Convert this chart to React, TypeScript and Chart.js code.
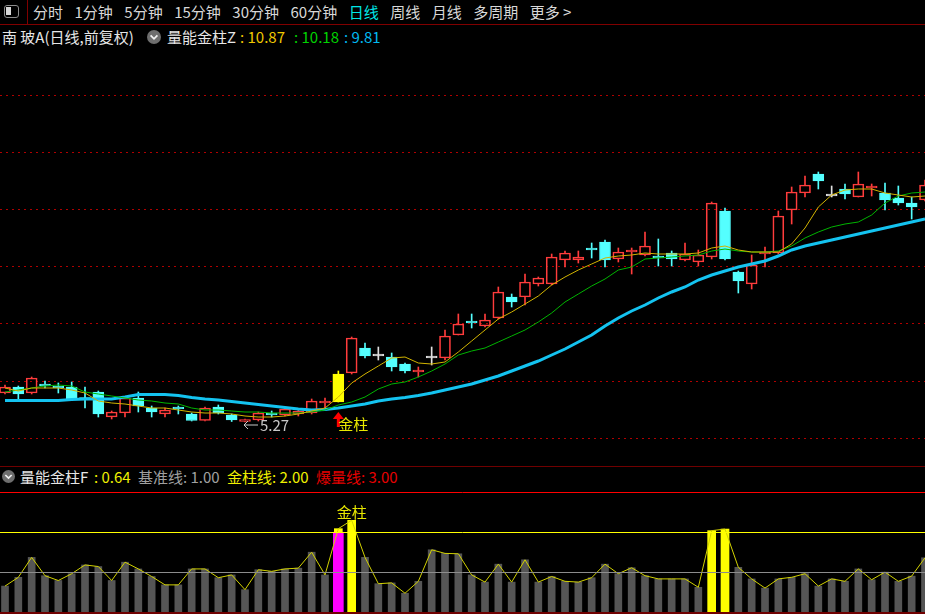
import React, { useEffect, useRef } from 'react';
import { Chart, registerables } from 'chart.js';

Chart.register(...registerables);

// ---------- text ----------
const MENU_ITEMS = ['分时', '1分钟', '5分钟', '15分钟', '30分钟', '60分钟', '日线', '周线', '月线', '多周期', '更多 >'];
const ACTIVE_PERIOD = '日线';
const STOCK_TITLE = '南 玻A(日线,前复权)';
const MAIN_IND_NAME = '量能金柱Z';
const MAIN_IND_VALUES = ['10.87', '10.18', '9.81'];
const SUB_IND_NAME = '量能金柱F';
const SUB_IND_VALUE = '0.64';
const SUB_LEVEL_NAMES = ['基准线', '金柱线', '爆量线'];
const GOLD_TEXT = '金柱';

// ---------- daily candles ----------
const OPEN = [5.85, 5.97, 5.85, 6.03, 5.99, 5.97, 5.74, 5.87, 5.37, 5.45,
  5.75, 5.55, 5.43, 5.57, 5.43, 5.30, 5.57, 5.41, 5.28, 5.31,
  5.45, 5.41, 5.43, 5.45, 5.65, 5.67, 6.25, 6.75, 6.59, 6.57,
  6.43, 6.27, 6.55, 6.55, 7.01, 7.29, 7.19, 7.35, 7.77, 7.77,
  8.03, 8.03, 8.51, 8.51, 8.75, 8.87, 8.53, 8.67, 8.61, 8.59,
  8.65, 8.51, 8.47, 8.57, 9.49, 8.27, 8.03, 8.63, 8.65, 9.51,
  9.85, 10.23, 9.79, 9.93, 9.77, 9.95, 9.85, 9.75, 9.65, 9.71];
const HIGH = [6.01, 5.99, 6.17, 6.09, 6.05, 6.07, 5.97, 5.89, 5.49, 5.77,
  5.87, 5.59, 5.55, 5.59, 5.45, 5.57, 5.61, 5.43, 5.33, 5.47,
  5.49, 5.55, 5.53, 5.73, 5.75, 6.29, 6.97, 6.85, 6.77, 6.65,
  6.45, 6.37, 6.77, 7.11, 7.43, 7.43, 7.43, 7.97, 7.83, 8.23,
  8.17, 8.63, 8.69, 8.69, 8.85, 8.91, 8.75, 8.75, 9.07, 8.93,
  8.69, 8.85, 8.71, 9.67, 9.55, 8.29, 8.61, 8.77, 9.49, 9.97,
  10.19, 10.27, 9.99, 10.03, 10.27, 10.03, 10.05, 9.99, 9.77, 10.11];
const LOW = [5.83, 5.73, 5.83, 5.95, 5.85, 5.71, 5.55, 5.37, 5.33, 5.37,
  5.47, 5.37, 5.37, 5.43, 5.29, 5.29, 5.43, 5.28, 5.27, 5.29,
  5.37, 5.39, 5.39, 5.43, 5.55, 5.67, 6.23, 6.55, 6.51, 6.29,
  6.25, 6.17, 6.41, 6.51, 7.01, 7.15, 7.17, 7.33, 7.57, 7.61,
  7.99, 8.01, 8.37, 8.45, 8.55, 8.37, 8.47, 8.23, 8.59, 8.39,
  8.39, 8.49, 8.39, 8.53, 8.51, 7.85, 7.93, 8.37, 8.63, 9.23,
  9.77, 9.93, 9.77, 9.73, 9.77, 9.79, 9.51, 9.61, 9.33, 9.69];
const CLOSE = [5.97, 5.83, 6.15, 5.99, 5.95, 5.73, 5.72, 5.43, 5.47, 5.75,
  5.59, 5.47, 5.51, 5.53, 5.30, 5.55, 5.45, 5.31, 5.32, 5.45,
  5.41, 5.53, 5.49, 5.69, 5.69, 6.23, 6.95, 6.59, 6.59, 6.37,
  6.29, 6.30, 6.55, 6.99, 7.23, 7.25, 7.31, 7.87, 7.67, 8.07,
  8.15, 8.57, 8.65, 8.57, 8.71, 8.51, 8.67, 8.71, 8.79, 8.55,
  8.53, 8.63, 8.61, 9.65, 8.53, 8.09, 8.41, 8.67, 9.39, 9.87,
  10.01, 10.09, 9.79, 9.83, 10.03, 9.98, 9.71, 9.65, 9.57, 10.01];

// ---------- main-panel indicator lines ----------
const LINE_FAST = [5.95, 5.89, 5.95, 5.95, 5.95, 5.91, 5.85, 5.69, 5.65, 5.63,
  5.59, 5.55, 5.55, 5.51, 5.47, 5.45, 5.45, 5.43, 5.39, 5.37,
  5.37, 5.39, 5.43, 5.49, 5.55, 5.77, 6.05, 6.23, 6.39, 6.55,
  6.57, 6.45, 6.43, 6.47, 6.67, 6.89, 7.11, 7.33, 7.47, 7.63,
  7.79, 8.01, 8.17, 8.31, 8.43, 8.55, 8.59, 8.61, 8.65, 8.63,
  8.63, 8.63, 8.65, 8.75, 8.79, 8.71, 8.67, 8.67, 8.67, 8.83,
  9.15, 9.57, 9.81, 9.91, 9.93, 9.93, 9.85, 9.81, 9.77, 9.79];
const LINE_MID = [5.87, 5.91, 5.95, 5.99, 6.01, 5.99, 5.87, 5.83, 5.79, 5.75,
  5.71, 5.69, 5.65, 5.63, 5.55, 5.51, 5.51, 5.49, 5.47, 5.47,
  5.45, 5.45, 5.45, 5.47, 5.51, 5.61, 5.67, 5.77, 5.93, 6.03,
  6.07, 6.17, 6.29, 6.43, 6.61, 6.69, 6.75, 6.87, 6.99, 7.11,
  7.27, 7.45, 7.67, 7.83, 7.99, 8.13, 8.31, 8.37, 8.53, 8.55,
  8.57, 8.59, 8.61, 8.69, 8.73, 8.69, 8.67, 8.67, 8.69, 8.79,
  8.95, 9.07, 9.17, 9.23, 9.27, 9.41, 9.65, 9.79, 9.85, 9.87];
const LINE_SLOW = [5.70, 5.70, 5.70, 5.70, 5.70, 5.72, 5.73, 5.73, 5.73, 5.77,
  5.82, 5.82, 5.82, 5.80, 5.76, 5.73, 5.71, 5.68, 5.65, 5.62,
  5.59, 5.56, 5.53, 5.51, 5.52, 5.55, 5.59, 5.63, 5.69, 5.73,
  5.76, 5.80, 5.85, 5.91, 5.97, 6.03, 6.11, 6.19, 6.29, 6.39,
  6.49, 6.61, 6.73, 6.87, 7.01, 7.19, 7.35, 7.49, 7.61, 7.75,
  7.87, 7.97, 8.11, 8.21, 8.29, 8.37, 8.43, 8.49, 8.59, 8.71,
  8.79, 8.85, 8.91, 8.97, 9.03, 9.09, 9.15, 9.21, 9.27, 9.33];
const GOLDEN_CANDLES = [25];
const GRID_PRICES = [4.94, 6.08, 7.23, 8.37, 9.51, 10.66, 11.80];

// ---------- sub-panel (volume ratio) ----------
const VOL_RATIO = [0.65, 0.87, 1.37, 0.91, 0.79, 0.96, 1.18, 1.14, 0.79, 1.25,
  1.08, 0.89, 0.68, 0.68, 1.08, 1.08, 0.86, 0.93, 0.56, 1.06,
  1.02, 1.08, 1.10, 1.50, 0.93, 2.09, 2.30, 1.37, 0.71, 0.73,
  0.47, 0.77, 1.56, 1.47, 1.46, 0.93, 0.75, 1.20, 0.75, 1.31,
  0.75, 0.89, 0.77, 0.75, 0.86, 1.20, 0.96, 1.11, 0.91, 0.83,
  0.83, 0.83, 0.62, 2.04, 2.08, 1.12, 0.83, 0.60, 0.83, 0.87,
  0.96, 0.65, 0.83, 0.77, 1.08, 0.81, 1.00, 0.77, 0.90, 1.36];
const RATIO_LEVELS = [1, 2, 3];
const MAGENTA_BARS = [25];
const SUB_GOLD_LABELS = [26];

// ---------- styling ----------
const FONT = '"Noto Sans CJK SC", "Noto Sans", sans-serif';
const UP = '#ff3c3c';
const DOWN = '#54ffff';
const FLAT = '#e0e0e0';
const GOLD = '#ffff00';
const X_MIN = -0.375;
const X_MAX = 69;

function candleColor(i: number) {
  if (GOLDEN_CANDLES.includes(i)) return GOLD;
  if (CLOSE[i] > OPEN[i]) return UP;
  if (CLOSE[i] < OPEN[i]) return DOWN;
  return FLAT;
}

export default function App() {
  const mainRef = useRef<HTMLCanvasElement>(null);
  const subRef = useRef<HTMLCanvasElement>(null);

  useEffect(() => {
    const idx = OPEN.map((_, i) => i);
    const colorOf = (ctx: any) => candleColor(ctx.dataIndex);

    const mainLabels = {
      id: 'mainLabels',
      afterDatasetsDraw(chart: any) {
        const { ctx } = chart;
        const x = chart.scales.x;
        const y = chart.scales.y;
        // lowest low marker
        let li = 0;
        LOW.forEach((v, i) => { if (v < LOW[li]) li = i; });
        const lx = x.getPixelForValue(li);
        const ay = y.getPixelForValue(LOW[li]) + 3;
        ctx.save();
        ctx.strokeStyle = '#c8c8c8';
        ctx.fillStyle = '#c8c8c8';
        ctx.lineWidth = 1;
        ctx.beginPath();
        ctx.moveTo(lx - 1, ay); ctx.lineTo(lx + 13, ay);
        ctx.moveTo(lx - 1, ay); ctx.lineTo(lx + 3, ay - 4);
        ctx.moveTo(lx - 1, ay); ctx.lineTo(lx + 3, ay + 4);
        ctx.stroke();
        ctx.font = `15px ${FONT}`;
        ctx.textBaseline = 'middle';
        ctx.textAlign = 'left';
        ctx.fillText(LOW[li].toFixed(2), lx + 15, ay);
        // golden-column markers
        GOLDEN_CANDLES.forEach((gi) => {
          const cx = x.getPixelForValue(gi);
          const ly = y.getPixelForValue(LOW[gi]);
          ctx.fillStyle = '#ff0000';
          ctx.beginPath();
          ctx.moveTo(cx, ly + 10);
          ctx.lineTo(cx + 5.5, ly + 17);
          ctx.lineTo(cx - 5.5, ly + 17);
          ctx.closePath();
          ctx.fill();
          ctx.fillRect(cx - 1.5, ly + 17, 3, 8);
          ctx.fillStyle = '#e8e800';
          ctx.fillText(GOLD_TEXT, cx, ly + 22);
        });
        ctx.restore();
      },
    };

    const main = new Chart(mainRef.current as HTMLCanvasElement, {
      type: 'bar',
      data: {
        datasets: [
          {
            type: 'line', data: idx.map((i) => ({ x: i, y: LINE_FAST[i] })),
            borderColor: '#d2b400', borderWidth: 1, pointRadius: 0, order: 1,
          },
          {
            type: 'line', data: idx.map((i) => ({ x: i, y: LINE_MID[i] })),
            borderColor: '#00b400', borderWidth: 1, pointRadius: 0, order: 2,
          },
          {
            type: 'line', data: idx.map((i) => ({ x: i, y: LINE_SLOW[i] })),
            borderColor: '#14c3f0', borderWidth: 3, pointRadius: 0, order: 3,
          },
          {
            type: 'bar',
            data: idx.map((i) => ({ x: i, y: [OPEN[i], CLOSE[i]] })),
            backgroundColor: (ctx: any) => {
              const i = ctx.dataIndex;
              if (GOLDEN_CANDLES.includes(i)) return GOLD;
              return CLOSE[i] > OPEN[i] ? 'rgba(0,0,0,0)' : candleColor(i);
            },
            borderColor: colorOf, borderWidth: 1, borderSkipped: false,
            barThickness: 11, minBarLength: 2, grouped: false, order: 4,
          } as any,
          {
            type: 'bar',
            data: idx.map((i) => ({ x: i, y: [Math.max(OPEN[i], CLOSE[i]), HIGH[i]] })),
            backgroundColor: colorOf, borderWidth: 0, barThickness: 1, grouped: false, order: 5,
          } as any,
          {
            type: 'bar',
            data: idx.map((i) => ({ x: i, y: [LOW[i], Math.min(OPEN[i], CLOSE[i])] })),
            backgroundColor: colorOf, borderWidth: 0, barThickness: 1, grouped: false, order: 6,
          } as any,
        ],
      },
      options: {
        animation: false,
        responsive: false,
        maintainAspectRatio: false,
        layout: { padding: 0 },
        plugins: { legend: { display: false }, tooltip: { enabled: false } },
        scales: {
          x: { type: 'linear', min: X_MIN, max: X_MAX, display: false, offset: false },
          y: {
            min: 4.39, max: 12.79,
            ticks: { display: false },
            border: { display: false, dash: [2, 4] },
            grid: { color: '#b00000', lineWidth: 1, drawTicks: false },
            afterBuildTicks: (a: any) => { a.ticks = GRID_PRICES.map((v) => ({ value: v })); },
            afterFit: (a: any) => { a.width = 0; },
          },
        },
      } as any,
      plugins: [mainLabels],
    });

    const subLabels = {
      id: 'subLabels',
      afterDatasetsDraw(chart: any) {
        const { ctx } = chart;
        const x = chart.scales.x;
        const y = chart.scales.y;
        ctx.save();
        ctx.fillStyle = '#e8e800';
        ctx.font = `15px ${FONT}`;
        ctx.textAlign = 'center';
        ctx.textBaseline = 'alphabetic';
        SUB_GOLD_LABELS.forEach((gi) => {
          ctx.fillText(GOLD_TEXT, x.getPixelForValue(gi), y.getPixelForValue(VOL_RATIO[gi]) - 2);
        });
        ctx.restore();
      },
    };

    const goldLevel = RATIO_LEVELS[1];
    const sub = new Chart(subRef.current as HTMLCanvasElement, {
      type: 'bar',
      data: {
        datasets: [
          {
            type: 'line', data: idx.map((i) => ({ x: i, y: VOL_RATIO[i] })),
            borderColor: '#d2d200', borderWidth: 1, pointRadius: 0, order: 1,
          },
          {
            type: 'bar',
            data: idx.map((i) => ({ x: i, y: MAGENTA_BARS.includes(i) ? Math.min(VOL_RATIO[i], goldLevel) : null })),
            backgroundColor: '#ff00ff', barThickness: 10, grouped: false, order: 2,
          } as any,
          {
            type: 'bar',
            data: idx.map((i) => ({ x: i, y: VOL_RATIO[i] >= goldLevel ? VOL_RATIO[i] : null })),
            backgroundColor: '#ffff00', barThickness: 8, grouped: false, order: 3,
          } as any,
          {
            type: 'bar',
            data: idx.map((i) => ({ x: i, y: VOL_RATIO[i] < goldLevel ? VOL_RATIO[i] : null })),
            backgroundColor: '#555555', barThickness: 7, grouped: false, order: 4,
          } as any,
        ],
      },
      options: {
        animation: false,
        responsive: false,
        maintainAspectRatio: false,
        layout: { padding: 0 },
        plugins: { legend: { display: false }, tooltip: { enabled: false } },
        scales: {
          x: { type: 'linear', min: X_MIN, max: X_MAX, display: false, offset: false },
          y: {
            min: 0, max: 3.16,
            ticks: { display: false },
            border: { display: false },
            grid: {
              z: 1, lineWidth: 1, drawTicks: false,
              color: (ctx: any) => (ctx.tick.value === 1 ? '#8c8c8c' : ctx.tick.value === 2 ? '#ffff00' : '#ff0000'),
            },
            afterBuildTicks: (a: any) => { a.ticks = RATIO_LEVELS.map((v) => ({ value: v })); },
            afterFit: (a: any) => { a.width = 0; },
          },
        },
      } as any,
      plugins: [subLabels],
    });

    return () => { main.destroy(); sub.destroy(); };
  }, []);

  const txt: React.CSSProperties = {
    position: 'absolute', whiteSpace: 'nowrap', fontSize: 15, lineHeight: '18px', fontFamily: FONT,
  };
  const chevron = (left: number, top: number, size: number) => (
    <svg style={{ position: 'absolute', left, top }} width={size} height={size} viewBox="0 0 14 14">
      <circle cx="7" cy="7" r="7" fill="#6e6e6e" />
      <polyline points="3.6,5.4 7,8.8 10.4,5.4" stroke="#f0f0f0" strokeWidth="1.8" fill="none" />
    </svg>
  );

  return (
    <div style={{ position: 'fixed', left: 0, top: 0, width: 925, height: 614, background: '#000', overflow: 'hidden', fontFamily: FONT }}>
      {/* menu bar */}
      <div style={{ position: 'absolute', left: 4, top: 5, width: 15, height: 13, boxSizing: 'border-box', border: '1.5px solid #8c8c8c', borderRadius: 3 }}>
        <div style={{ position: 'absolute', left: 1, top: 1, width: 5, height: 8, background: '#d8d8d8' }} />
      </div>
      <div style={{ position: 'absolute', left: 27, top: 0, width: 1, height: 24, background: '#800000' }} />
      <div style={{ position: 'absolute', left: 0, top: 24, width: 925, height: 1, background: '#800000' }} />
      <div style={{ position: 'absolute', left: 33, top: 3, display: 'flex', gap: 11.5, fontSize: 15, lineHeight: '18px', color: '#d8d8d8', whiteSpace: 'nowrap' }}>
        {MENU_ITEMS.map((m) => (
          <span key={m} style={{ color: m === ACTIVE_PERIOD ? '#00e6e6' : undefined }}>{m}</span>
        ))}
      </div>

      {/* main title */}
      <span style={{ ...txt, left: 2, top: 28, color: '#e6e6e6' }}>{STOCK_TITLE}</span>
      {chevron(147, 30, 14)}
      <span style={{ ...txt, left: 167, top: 28, color: '#e6e6e6' }}>{MAIN_IND_NAME}</span>
      <span style={{ ...txt, left: 240, top: 28, color: '#f0c800' }}>{': ' + MAIN_IND_VALUES[0]}</span>
      <span style={{ ...txt, left: 294, top: 28, color: '#00d200' }}>{': ' + MAIN_IND_VALUES[1]}</span>
      <span style={{ ...txt, left: 344, top: 28, color: '#00b9f0' }}>{': ' + MAIN_IND_VALUES[2]}</span>

      <canvas ref={mainRef} width={925} height={420} style={{ position: 'absolute', left: 0, top: 46, width: 925, height: 420 }} />
      <div style={{ position: 'absolute', left: 0, top: 466, width: 925, height: 1, background: '#700000' }} />

      {/* sub title */}
      {chevron(2, 470, 13)}
      <span style={{ ...txt, left: 20, top: 468, color: '#e6e6e6' }}>{SUB_IND_NAME}</span>
      <span style={{ ...txt, left: 94, top: 468, color: '#f0f000' }}>{': ' + SUB_IND_VALUE}</span>
      <span style={{ ...txt, left: 138, top: 468, color: '#a0a0a0' }}>{SUB_LEVEL_NAMES[0] + ': ' + RATIO_LEVELS[0].toFixed(2)}</span>
      <span style={{ ...txt, left: 227, top: 468, color: '#f0f000' }}>{SUB_LEVEL_NAMES[1] + ': ' + RATIO_LEVELS[1].toFixed(2)}</span>
      <span style={{ ...txt, left: 316, top: 468, color: '#e60000' }}>{SUB_LEVEL_NAMES[2] + ': ' + RATIO_LEVELS[2].toFixed(2)}</span>

      <canvas ref={subRef} width={925} height={126} style={{ position: 'absolute', left: 0, top: 486, width: 925, height: 126 }} />
      <div style={{ position: 'absolute', left: 0, top: 612, width: 925, height: 2, background: '#700000' }} />
    </div>
  );
}
